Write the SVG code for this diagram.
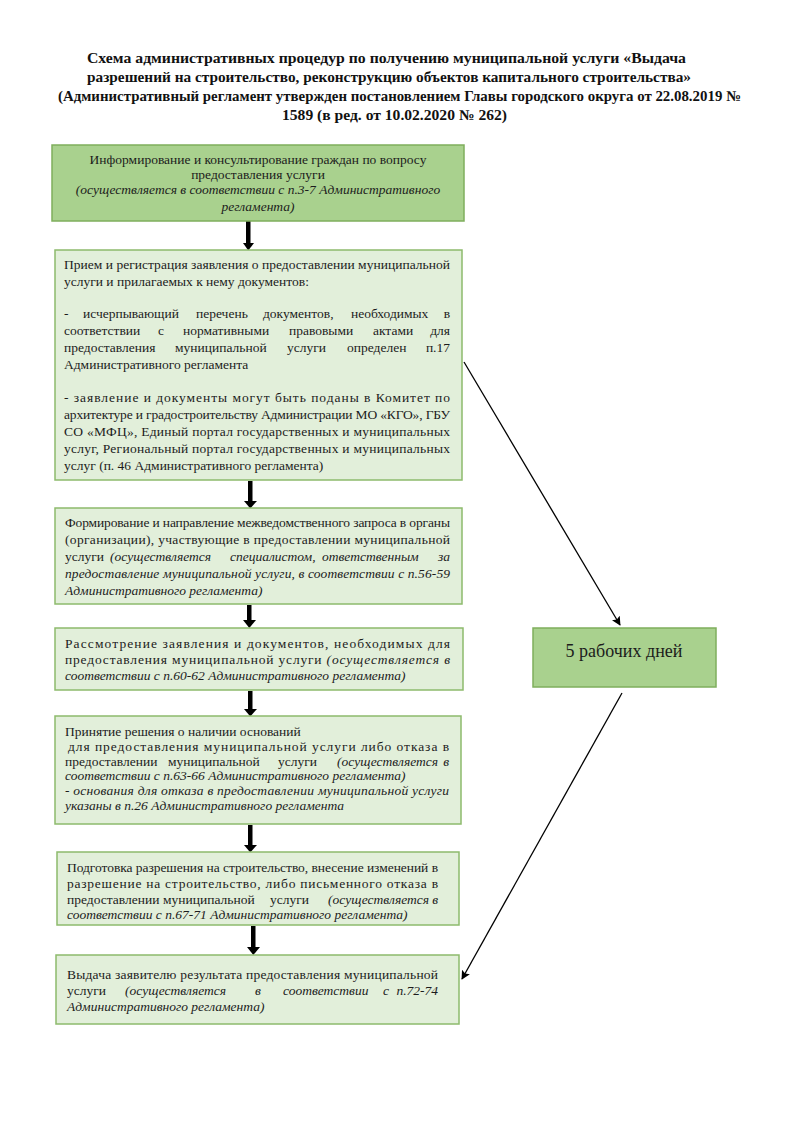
<svg xmlns="http://www.w3.org/2000/svg" width="794" height="1123" viewBox="0 0 794 1123">
<style>
.bg{fill:#ffffff}
.hdr{fill:#a9d18e;stroke:#7fae5c;stroke-width:1.5}
.box{fill:#e2efda;stroke:#8dbb6c;stroke-width:1.5}
.title{font-family:"Liberation Serif","Times New Roman",serif;font-size:15px;font-weight:bold;fill:#111}
.t{font-family:"Liberation Serif","Times New Roman",serif;font-size:13.5px;fill:#1c1c1c}
.c{text-anchor:middle}
.i{font-style:italic}
.e{text-anchor:end}
.big{font-family:"Liberation Serif","Times New Roman",serif;font-size:18px;fill:#1c1c1c;text-anchor:middle}
.thick{fill:#000}
.thin{stroke:#000;stroke-width:1.3;fill:none}
</style>
<defs>
<marker id="ah2" viewBox="0 0 10 10" refX="9" refY="5" markerWidth="9" markerHeight="9" markerUnits="userSpaceOnUse" orient="auto">
<path d="M0,0 L10,5 L0,10 L2,5 z" fill="#000"/>
</marker>
</defs>
<rect class="bg" x="0" y="0" width="794" height="1123"/>

<g id="title">
<text class="title" x="87" y="63" textLength="599" lengthAdjust="spacingAndGlyphs">Схема административных процедур по получению муниципальной услуги «Выдача</text>
<text class="title" x="87" y="82" textLength="604" lengthAdjust="spacingAndGlyphs">разрешений на строительство, реконструкцию объектов капитального строительства»</text>
<text class="title" x="58" y="101" textLength="683" lengthAdjust="spacingAndGlyphs">(Административный регламент утвержден постановлением Главы городского округа от 22.08.2019 №</text>
<text class="title" x="282" y="120" textLength="225" lengthAdjust="spacingAndGlyphs">1589 (в ред. от 10.02.2020 № 262)</text>
</g>

<g id="connectors">
<rect class="thick" x="246" y="221" width="4.5" height="23"/>
<path class="thick" d="M243,243 L254,243 L248.3,250.5 z"/>
<rect class="thick" x="248" y="481" width="4.5" height="21"/>
<path class="thick" d="M244,501 L257,501 L250.3,508.5 z"/>
<rect class="thick" x="247" y="605" width="4.5" height="16"/>
<path class="thick" d="M243,620 L256,620 L249.3,628 z"/>
<rect class="thick" x="248" y="691" width="4.5" height="19"/>
<path class="thick" d="M244,709 L257,709 L250.3,716.5 z"/>
<rect class="thick" x="248" y="825" width="4.5" height="21"/>
<path class="thick" d="M244,845 L257,845 L250.3,852.5 z"/>
<rect class="thick" x="251" y="926" width="4.5" height="22"/>
<path class="thick" d="M247,947 L260,947 L253.3,955 z"/>
<line class="thin" x1="464" y1="362" x2="620" y2="625" marker-end="url(#ah2)"/>
<line class="thin" x1="622" y1="693" x2="462" y2="979" marker-end="url(#ah2)"/>
</g>

<g id="n1">
<rect class="hdr" x="52" y="145" width="412" height="76"/>
<text class="t c" x="258" y="164">Информирование и консультирование граждан по вопросу</text>
<text class="t c" x="258" y="179">предоставления услуги</text>
<text class="t c i" x="258" y="194">(осуществляется в соответствии с п.3-7 Административного</text>
<text class="t c i" x="258" y="211">регламента)</text>
</g>

<g id="n2">
<rect class="box" x="55" y="250" width="407" height="230"/>
<text class="t" x="64" y="269" textLength="386" lengthAdjust="spacing">Прием и регистрация заявления о предоставлении муниципальной</text>
<text class="t" x="64" y="286">услуги и прилагаемых к нему документов:</text>
<text class="t" y="318"><tspan x="64">-</tspan><tspan x="83">исчерпывающий</tspan><tspan x="196">перечень</tspan><tspan x="263">документов,</tspan><tspan x="351">необходимых</tspan><tspan class="e" x="450">в</tspan></text>
<text class="t" y="335"><tspan x="64">соответствии</tspan><tspan x="158">с</tspan><tspan x="183">нормативными</tspan><tspan x="289">правовыми</tspan><tspan x="373">актами</tspan><tspan class="e" x="450">для</tspan></text>
<text class="t" y="352"><tspan x="64">предоставления</tspan><tspan x="175">муниципальной</tspan><tspan x="287">услуги</tspan><tspan x="347">определен</tspan><tspan class="e" x="450">п.17</tspan></text>
<text class="t" x="64" y="369">Административного регламента</text>
<text class="t" x="64" y="402" textLength="386" lengthAdjust="spacing">- заявление и документы могут быть поданы в Комитет по</text>
<text class="t" x="64" y="419" textLength="386" lengthAdjust="spacing">архитектуре и градостроительству Администрации МО «КГО», ГБУ</text>
<text class="t" x="64" y="436" textLength="386" lengthAdjust="spacing">СО «МФЦ», Единый портал государственных и муниципальных</text>
<text class="t" x="64" y="453" textLength="386" lengthAdjust="spacing">услуг, Региональный портал государственных и муниципальных</text>
<text class="t" x="64" y="470">услуг (п. 46 Административного регламента)</text>
</g>

<g id="n3">
<rect class="box" x="55" y="508" width="407" height="96"/>
<text class="t" x="65" y="527" textLength="385" lengthAdjust="spacing">Формирование и направление межведомственного запроса в органы</text>
<text class="t" x="65" y="544" textLength="385" lengthAdjust="spacing">(организации), участвующие в предоставлении муниципальной</text>
<text class="t" y="561"><tspan x="65">услуги</tspan><tspan class="i" x="110">(осуществляется</tspan><tspan class="i" x="230">специалистом,</tspan><tspan class="i" x="322">ответственным</tspan><tspan class="i e" x="450">за</tspan></text>
<text class="t i" x="65" y="578" textLength="385" lengthAdjust="spacing">предоставление муниципальной услуги, в соответствии с п.56-59</text>
<text class="t i" x="65" y="595">Административного регламента)</text>
</g>

<g id="n4">
<rect class="box" x="55" y="628" width="408" height="62"/>
<text class="t" x="65" y="648" textLength="385" lengthAdjust="spacing">Рассмотрение заявления и документов, необходимых для</text>
<text class="t" x="65" y="664" textLength="385" lengthAdjust="spacing">предоставления муниципальной услуги <tspan class="i">(осуществляется в</tspan></text>
<text class="t i" x="65" y="680">соответствии с п.60-62 Административного регламента)</text>
</g>

<g id="n5">
<rect class="box" x="55" y="716" width="406" height="108"/>
<text class="t" x="65" y="736">Принятие решения о наличии оснований</text>
<text class="t" x="68" y="751" textLength="381" lengthAdjust="spacing">для предоставления муниципальной услуги либо отказа в</text>
<text class="t" y="766"><tspan x="65">предоставлении</tspan><tspan x="168">муниципальной</tspan><tspan x="278">услуги</tspan><tspan class="i" x="337">(осуществляется</tspan><tspan class="i e" x="449">в</tspan></text>
<text class="t i" x="65" y="780">соответствии с п.63-66 Административного регламента)</text>
<text class="t i" x="65" y="795" textLength="384" lengthAdjust="spacing">- основания для отказа в предоставлении муниципальной услуги</text>
<text class="t i" x="65" y="810">указаны в п.26 Административного регламента</text>
</g>

<g id="n6">
<rect class="box" x="57" y="852" width="402" height="73"/>
<text class="t" x="67" y="872" textLength="371" lengthAdjust="spacing">Подготовка разрешения на строительство, внесение изменений в</text>
<text class="t" x="67" y="888" textLength="371" lengthAdjust="spacing">разрешение на строительство, либо письменного отказа в</text>
<text class="t" y="904"><tspan x="67">предоставлении</tspan><tspan x="163">муниципальной</tspan><tspan x="270">услуги</tspan><tspan class="i" x="328">(осуществляется</tspan><tspan class="i e" x="438">в</tspan></text>
<text class="t i" x="67" y="919">соответствии с п.67-71 Административного регламента)</text>
</g>

<g id="n7">
<rect class="box" x="56" y="955" width="403" height="69"/>
<text class="t" x="67" y="979" textLength="371" lengthAdjust="spacing">Выдача заявителю результата предоставления муниципальной</text>
<text class="t" y="995"><tspan x="67">услуги</tspan><tspan class="i" x="125">(осуществляется</tspan><tspan class="i" x="255">в</tspan><tspan class="i" x="283">соответствии</tspan><tspan class="i" x="383">с</tspan><tspan class="i e" x="438">п.72-74</tspan></text>
<text class="t i" x="67" y="1011">Административного регламента)</text>
</g>

<g id="n8">
<rect class="hdr" x="533" y="628" width="183" height="59"/>
<text class="big" x="624" y="657">5 рабочих дней</text>
</g>
</svg>
